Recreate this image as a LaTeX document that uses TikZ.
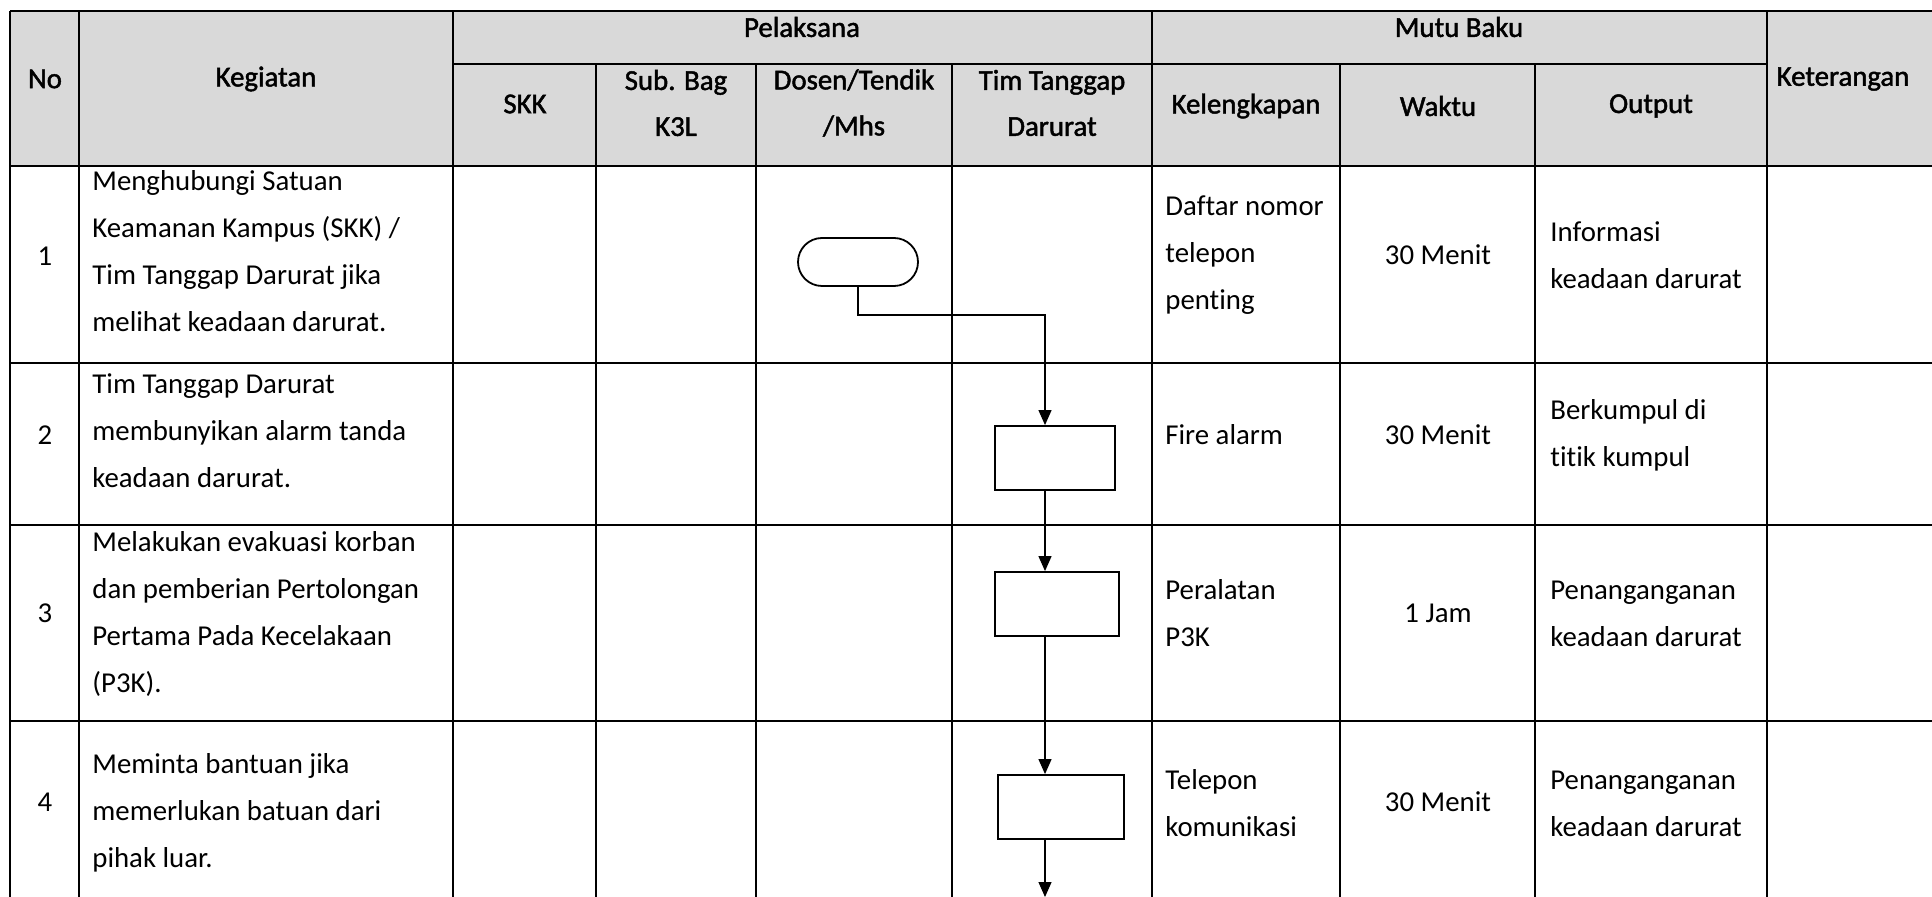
\documentclass[tikz,border=0pt]{standalone}
\usepackage{fontspec}
\setmainfont{Carlito}[Ligatures=NoCommon]
\newfontfamily\headfont{Carlito}[Ligatures=NoCommon,FakeBold=1.6]
\usepackage{tikz}
\usetikzlibrary{arrows.meta}
\definecolor{headgray}{HTML}{D9D9D9}
\tikzset{
    celltext/.style = {
        font=\fontsize{14.4}{23.5}\selectfont,
        inner sep=0pt,
        align=left,
        anchor=west
    },
    midtext/.style = {
        font=\fontsize{14.4}{23.5}\selectfont,
        inner sep=0pt,
        align=center
    },
    headtext/.style = {
        midtext,
        font=\fontsize{14.4}{23}\selectfont\headfont
    },
    hline/.style = {line width=1.2pt},
    vline/.style = {line width=0.6pt},
    termbox/.style = {
        draw=black,
        line width=0.9pt,
        rectangle,
        rounded corners=12pt,
        minimum width=60pt,
        minimum height=24pt,
        inner sep=0pt
    },
    procbox/.style = {
        draw=black,
        line width=0.9pt,
        rectangle,
        minimum height=32pt,
        inner sep=0pt
    },
    flow/.style = {
        line width=0.6pt,
        -{Triangle[length=7.5pt,width=6.5pt]}
    }
}

\begin{document}
\begin{tikzpicture}[x=0.5pt,y=-0.5pt]
    \useasboundingbox (0,0) rectangle (1932,897);
    % header band
    \fill[headgray] (10,11) rectangle (1932,166);

    % grid
    \foreach \x in {10,79,453,1152,1767}
        \draw[vline] (\x,11) -- (\x,897);
    \foreach \x in {596,756,952,1340,1535}
        \draw[vline] (\x,64) -- (\x,897);
    \foreach \y in {11,166,363,525,721}
        \draw[hline] (10,\y) -- (1932,\y);
    \draw[hline] (453,64) -- (1767,64);

    % header
    \node [headtext] (hno) at (45,79) {No};
    \node [headtext] (hkeg) at (266,79) {Kegiatan};
    \node [headtext] (hpel) at (802,27) {Pelaksana};
    \node [headtext] (hmutu) at (1459,27) {Mutu Baku};
    \node [headtext] (hskk) at (525,104) {SKK};
    \node [headtext] (hsub) at (676,103) {Sub. Bag\\K3L};
    \node [headtext] (hdos) at (854,103) {Dosen/Tendik\\/Mhs};
    \node [headtext] (htim) at (1052,103) {Tim Tanggap\\Darurat};
    \node [headtext] (hkel) at (1246,106) {Kelengkapan};
    \node [headtext] (hwkt) at (1438,106) {Waktu};
    \node [headtext] (hout) at (1651,106) {Output};
    \node [headtext] (hket) at (1843,79) {Keterangan};

    % row 1
    \node [midtext] (no1) at (45,256) {1};
    \node [celltext] (keg1) at (92,251.5) {Menghubungi Satuan\\Keamanan Kampus (SKK) /\\Tim Tanggap Darurat jika\\melihat keadaan darurat.};
    \node [celltext] (kel1) at (1165,255) {Daftar nomor\\telepon\\penting};
    \node [midtext] (wkt1) at (1438,255) {30 Menit};
    \node [celltext] (out1) at (1550,255) {Informasi\\keadaan darurat};

    % row 2
    \node [midtext] (no2) at (45,435) {2};
    \node [celltext] (keg2) at (92,431) {Tim Tanggap Darurat\\membunyikan alarm tanda\\keadaan darurat.};
    \node [celltext] (kel2) at (1165,435) {Fire alarm};
    \node [midtext] (wkt2) at (1438,435) {30 Menit};
    \node [celltext] (out2) at (1550,435) {Berkumpul di\\titik kumpul};

    % row 3
    \node [midtext] (no3) at (45,613) {3};
    \node [celltext] (keg3) at (92,613.5) {Melakukan evakuasi korban\\dan pemberian Pertolongan\\Pertama Pada Kecelakaan\\(P3K).};
    \node [celltext] (kel3) at (1165,613.5) {Peralatan\\P3K};
    \node [midtext] (wkt3) at (1438,613.5) {1 Jam};
    \node [celltext] (out3) at (1550,613.5) {Penanganganan\\keadaan darurat};

    % row 4
    \node [midtext] (no4) at (45,802) {4};
    \node [celltext] (keg4) at (92,813) {Meminta bantuan jika\\memerlukan batuan dari\\pihak luar.};
    \node [celltext] (kel4) at (1165,803.5) {Telepon\\komunikasi};
    \node [midtext] (wkt4) at (1438,802) {30 Menit};
    \node [celltext] (out4) at (1550,803.5) {Penanganganan\\keadaan darurat};

    % flow
    \node [termbox] (start) at (858,262) {};
    \node [procbox, minimum width=60pt] (alarm) at (1055,458) {};
    \node [procbox, minimum width=62pt] (evak) at (1057,604) {};
    \node [procbox, minimum width=63pt] (bantu) at (1061,807) {};
    \coordinate (bend) at (1045,315);
    \coordinate (exit) at (1045,897);
    \draw [flow] (start.south) |- (bend) -- (bend |- alarm.north);
    \draw [flow] (bend |- alarm.south) -- (bend |- evak.north);
    \draw [flow] (bend |- evak.south) -- (bend |- bantu.north);
    \draw [flow] (bend |- bantu.south) -- (exit);
\end{tikzpicture}
\end{document}
